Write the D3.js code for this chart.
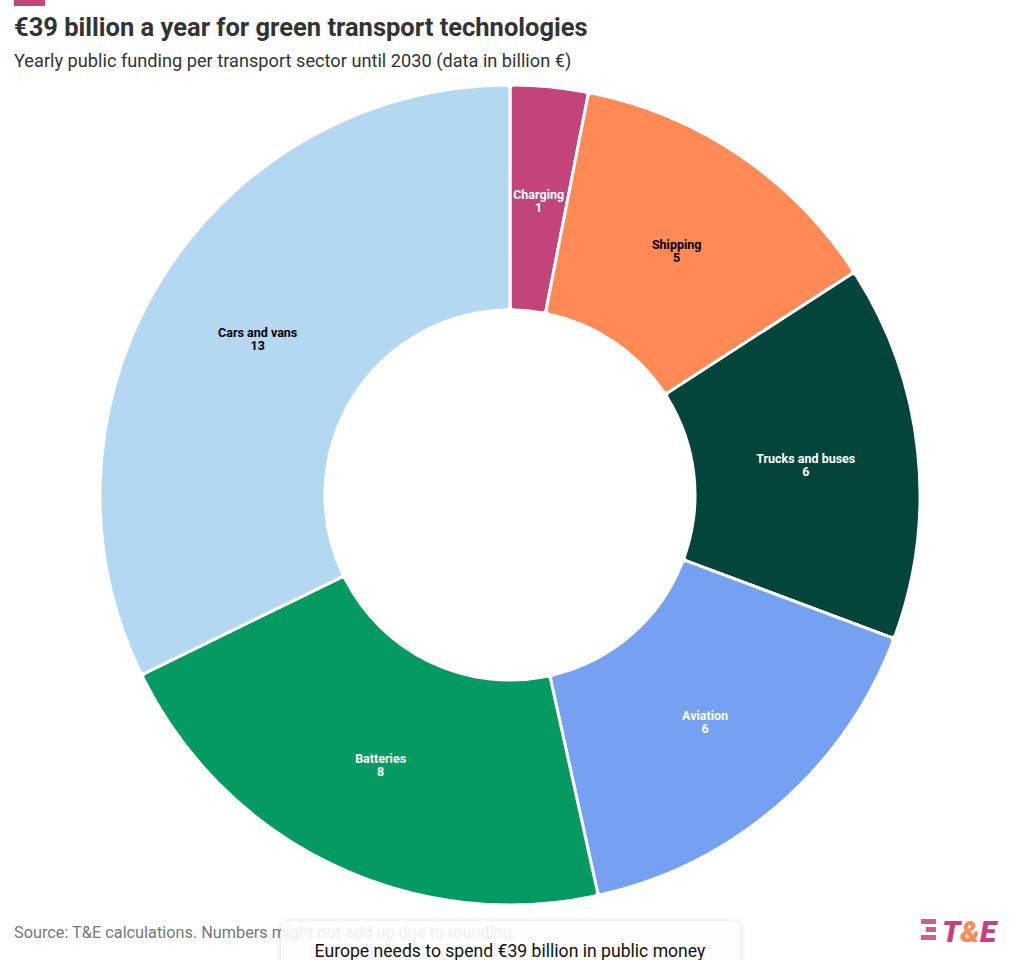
<!DOCTYPE html>
<html><head><meta charset="utf-8">
<script src="https://cdn.jsdelivr.net/npm/d3@7"></script>
<style>
body{margin:0;background:#fff;font-family:Roboto,"Noto Sans",sans-serif;}
svg{display:block}
</style></head><body>
<svg id="c" width="1020" height="960"></svg>
<script>
const categories = ["Charging","Shipping","Trucks and buses","Aviation","Batteries","Cars and vans"];
const values = [1.2, 5.0, 5.8, 6.2, 8.3, 12.6];
const valueLabels = ["1","5","6","6","8","13"];
const colors = ["#c2447a","#ff8a55","#03453a","#76a1f2","#049a62","#b5d8f2"];
const textColors = ["#fff","#000","#fff","#fff","#fff","#000"];

const svg = d3.select("#c");
svg.append("rect").attr("x",14).attr("y",0).attr("width",31).attr("height",6).attr("fill","#c2447a");
svg.append("text").attr("x",14).attr("y",36).attr("font-size",25.5).attr("font-weight",700).attr("fill","#333")
  .text("€39 billion a year for green transport technologies");
svg.append("text").attr("x",14).attr("y",67).attr("font-size",18.2).attr("fill","#333")
  .text("Yearly public funding per transport sector until 2030 (data in billion €)");

const cx=510, cy=495, R=410, r=185;
const pie = d3.pie().sort(null).value(d=>d);
const arcs = pie(values);
const arc = d3.arc().innerRadius(r).outerRadius(R).cornerRadius(4);
const g = svg.append("g").attr("transform",`translate(${cx},${cy})`);
g.selectAll("path").data(arcs).join("path")
  .attr("d",arc).attr("fill",(d,i)=>colors[i]).attr("stroke","#fff").attr("stroke-width",3);
const lab = d3.arc().innerRadius(r).outerRadius(R);
const lg = g.selectAll("g.l").data(arcs).join("g").attr("class","l")
  .attr("transform",d=>`translate(${lab.centroid(d)})`);
lg.append("text").attr("text-anchor","middle").attr("y",0).attr("font-size",12.5).attr("font-weight",700)
  .attr("fill",(d,i)=>textColors[i]).text((d,i)=>categories[i]);
lg.append("text").attr("text-anchor","middle").attr("y",13).attr("font-size",12.5).attr("font-weight",700)
  .attr("fill",(d,i)=>textColors[i]).text((d,i)=>valueLabels[i]);

svg.append("text").attr("x",14).attr("y",938).attr("font-size",16.3).attr("fill","#777")
  .text("Source: T&E calculations. Numbers might not add up due to rounding.");

// logo
const logo = svg.append("g").attr("transform","translate(921,919)");
[0,8,16].forEach((y,i)=>logo.append("rect").attr("x",i==1?5:0).attr("y",y).attr("width",i==1?10:15).attr("height",5).attr("fill","#c2447a").attr("opacity",0.85));
logo.append("text").attr("x",21).attr("y",23).attr("font-size",30).attr("font-weight",900).attr("font-style","italic")
  .attr("fill","#c2447a").html('T<tspan fill="#ff8a55">&amp;</tspan>E');

// tooltip
const defs = svg.append("defs");
const f = defs.append("filter").attr("id","sh").attr("x","-10%").attr("y","-50%").attr("width","120%").attr("height","200%");
f.append("feDropShadow").attr("dx",0).attr("dy",1).attr("stdDeviation",3).attr("flood-color","#000").attr("flood-opacity",0.18);
svg.append("rect").attr("x",281).attr("y",921).attr("width",459).attr("height",60).attr("rx",8)
  .attr("fill","#fff").attr("fill-opacity",0.88).attr("filter","url(#sh)");
svg.append("text").attr("x",510).attr("y",957).attr("text-anchor","middle").attr("font-size",17.6).attr("fill","#111")
  .text("Europe needs to spend €39 billion in public money");
</script></body></html>
